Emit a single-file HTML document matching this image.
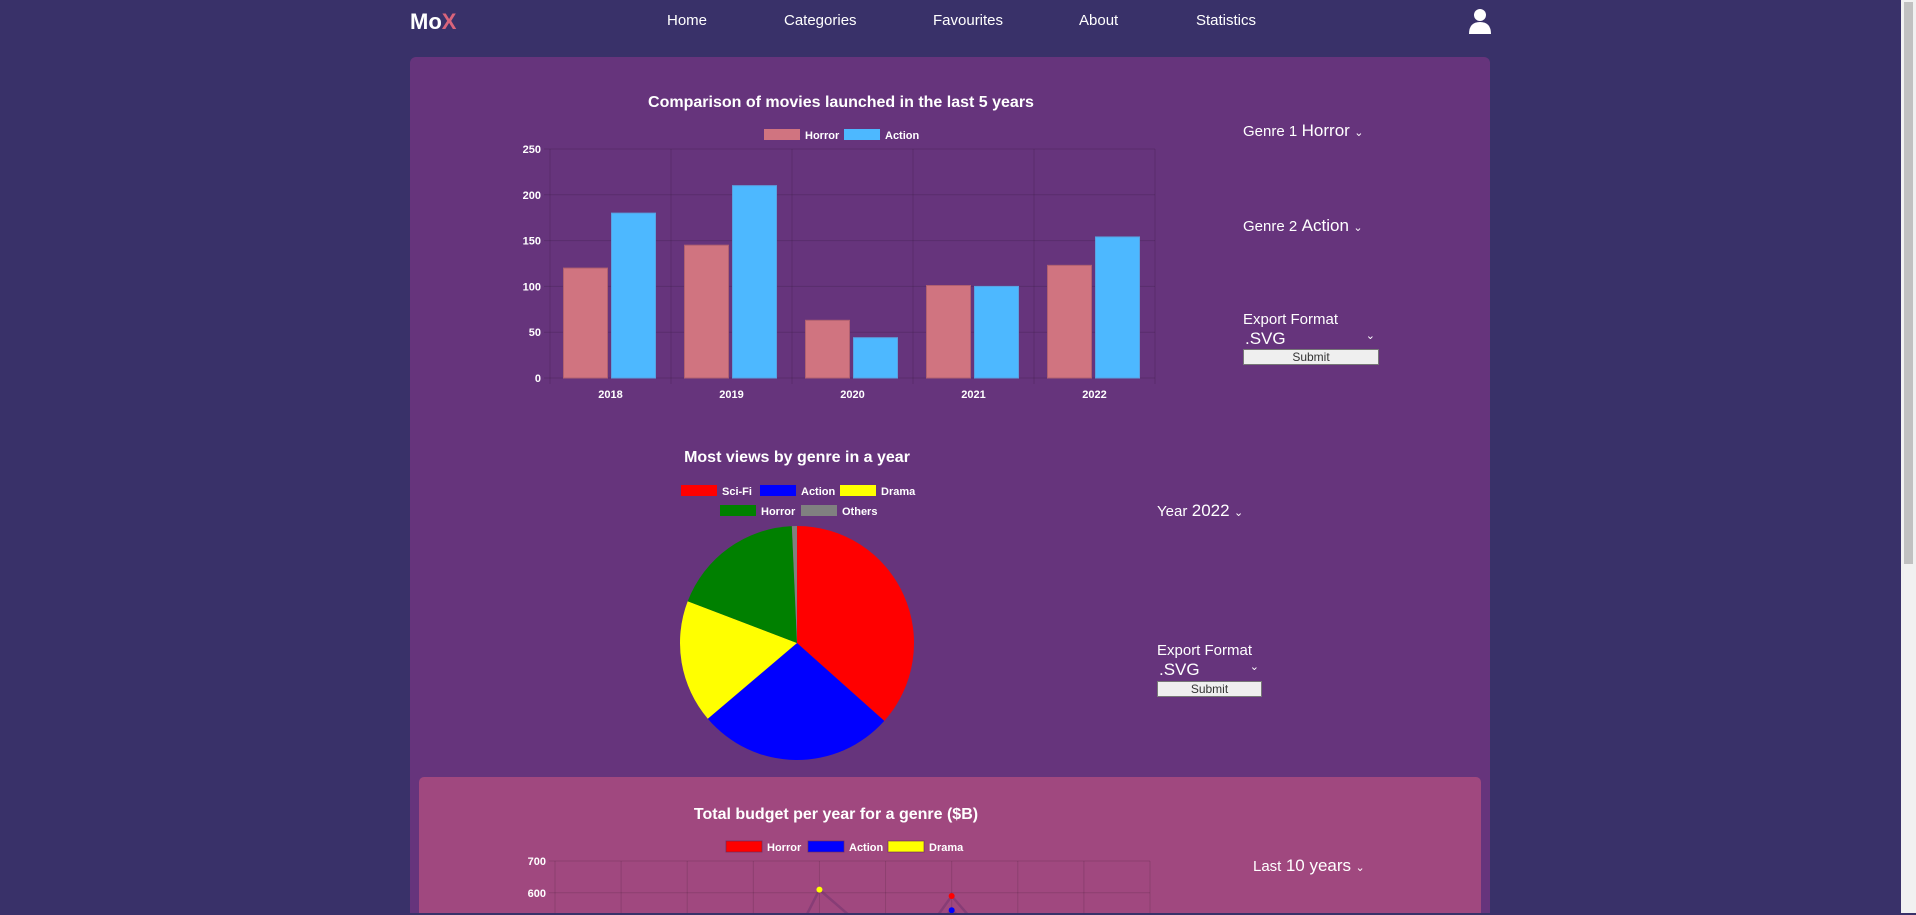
<!DOCTYPE html>
<html><head><meta charset="utf-8">
<style>
html,body{margin:0;padding:0;width:1916px;height:915px;overflow:hidden;background:#393169;font-family:"Liberation Sans",sans-serif;color:#fff}
#wrap{position:relative;width:1916px;height:915px;overflow:hidden}
.abs{position:absolute}
.nav{font-size:15px;top:12px}
.panel{position:absolute;left:410px;top:57px;width:1080px;height:856px;background:#66347c;border-radius:6px 6px 0 0}
.panel2{position:absolute;left:419px;top:777px;width:1062px;height:136px;background:#a0487f;border-radius:5px 5px 0 0}
.lbl{font-size:15px}
.big{font-size:17px}
.btn{background:#efefef;border:1px solid #777;color:#333;font-size:12px;text-align:center;line-height:14px}
svg text{font-family:"Liberation Sans",sans-serif;fill:#fff}
</style></head><body><div id="wrap">
<div class="abs" style="left:410px;top:9px;font-size:22px;font-weight:bold">Mo<span style="color:#d9647b">X</span></div>
<div class="abs nav" style="left:667px">Home</div>
<div class="abs nav" style="left:784px">Categories</div>
<div class="abs nav" style="left:933px">Favourites</div>
<div class="abs nav" style="left:1079px">About</div>
<div class="abs nav" style="left:1196px">Statistics</div>
<svg class="abs" style="left:1469px;top:8px" width="22" height="26"><circle cx="11" cy="7" r="6" fill="#fff"/><path d="M0 26 Q0 14 11 14 Q22 14 22 26Z" fill="#fff"/></svg>
<div class="abs" style="left:1901px;top:0;width:15px;height:913px;background:#f1f1f1"><div style="position:absolute;left:3px;top:2px;width:9px;height:562px;background:#c1c1c1"></div></div>

<div class="panel"></div>
<div class="panel2"></div>

<svg id="bar" class="abs" style="left:0;top:0" width="1916" height="913"></svg>

<div class="abs" style="left:1243px;top:121px"><span class="lbl">Genre 1</span> <span class="big">Horror</span> <span style="font-size:11px">&#8964;</span></div>
<div class="abs" style="left:1243px;top:216px"><span class="lbl">Genre 2</span> <span class="big">Action</span> <span style="font-size:11px">&#8964;</span></div>
<div class="abs lbl" style="left:1243px;top:311px">Export Format</div>
<div class="abs big" style="left:1245px;top:329px;width:130px">.SVG<span style="float:right;font-size:11px">&#8964;</span></div>
<div class="abs btn" style="left:1243px;top:349px;width:134px;height:14px">Submit</div>

<div class="abs" style="left:1157px;top:501px"><span class="lbl">Year</span> <span class="big">2022</span> <span style="font-size:11px">&#8964;</span></div>
<div class="abs lbl" style="left:1157px;top:642px">Export Format</div>
<div class="abs big" style="left:1159px;top:660px;width:100px">.SVG<span style="float:right;font-size:11px">&#8964;</span></div>
<div class="abs btn" style="left:1157px;top:681px;width:103px;height:14px">Submit</div>

<div class="abs" style="left:1253px;top:856px"><span class="lbl">Last</span> <span class="big">10 years</span> <span style="font-size:11px">&#8964;</span></div>
</div>
<script>
const barYears=["2018","2019","2020","2021","2022"];
const horrorVals=[120,145,63,101,123];
const actionVals=[180,210,44,100,154];
const barTicks=[0,50,100,150,200,250];
const pieLabels=["Sci-Fi","Action","Drama","Horror","Others"];
const pieVals=[36.6,27.2,17,18.5,0.7];
const lineYears=["2013","2014","2015","2016","2017","2018","2019","2020","2021","2022"];
const lineHorror=[300,320,340,360,380,300,590,350,400,380];
const lineAction=[250,270,290,310,330,350,545,380,360,340];
const lineDrama=[200,220,240,200,610,430,300,320,330,350];
const lineTicks=[600,700];

const NS="http://www.w3.org/2000/svg";
const svg=document.getElementById('bar');
function mk(t,a,txt){const e=document.createElementNS(NS,t);for(const k in a)e.setAttribute(k,a[k]);if(txt!==undefined)e.textContent=txt;svg.appendChild(e);return e;}

const bx0=550,bx1=1155,by0=378,by1=149;
const by=v=>by0-(v/250)*(by0-by1);
const bw=(bx1-bx0)/barYears.length;
let t=mk('text',{x:841,y:107,'text-anchor':'middle','font-size':16,'font-weight':'bold'},'Comparison of movies launched in the last 5 years');

barTicks.forEach(v=>{
  let g=mk('line',{x1:bx0-6,x2:bx1,y1:by(v),y2:by(v),stroke:'rgba(0,0,0,0.12)'});
  
  let l=mk('text',{x:541,y:by(v)+4,'text-anchor':'end','font-size':11,'font-weight':'bold'},v);
  
});
for(let i=0;i<=barYears.length;i++){let g=mk('line',{x1:bx0+i*bw,x2:bx0+i*bw,y1:by1,y2:by0+6,stroke:'rgba(0,0,0,0.12)'});
}
barYears.forEach((y,i)=>{
  const cx=bx0+bw*(i+0.5);
  let h=mk('rect',{x:cx-47,y:by(horrorVals[i]),width:44,height:by0-by(horrorVals[i]),fill:'#d07480',stroke:'#b06070'});
  
  let a=mk('rect',{x:cx+1,y:by(actionVals[i]),width:44,height:by0-by(actionVals[i]),fill:'#4db8ff',stroke:'#5aa0e0'});
  
  let l=mk('text',{x:cx,y:398,'text-anchor':'middle','font-size':11,'font-weight':'bold'},y);
  
});
[['Horror','#d07480',764],['Action','#4db8ff',844]].forEach(([n,c,x])=>{
  let r=mk('rect',{x:x,y:129,width:36,height:11,fill:c});
  let l=mk('text',{x:x+41,y:139,'font-size':11,'font-weight':'bold'},n);
});

const pieColors=['#ff0000','#0000ff','#ffff00','#008000','#808080'];
t=mk('text',{x:797,y:462,'text-anchor':'middle','font-size':16,'font-weight':'bold'},'Most views by genre in a year');

const legPos=[[681,490],[760,490],[840,490],[720,510],[801,510]];
pieLabels.forEach((n,i)=>{
  let r=mk('rect',{x:legPos[i][0],y:legPos[i][1]-5,width:36,height:11,fill:pieColors[i]});
  let l=mk('text',{x:legPos[i][0]+41,y:legPos[i][1]+5,'font-size':11,'font-weight':'bold'},n);
});
const pcx=797,pcy=643,pr=117;
const tot=pieVals.reduce((a,b)=>a+b,0);
let ang=-Math.PI/2;
pieVals.forEach((v,i)=>{
  const a2=ang+v/tot*Math.PI*2;
  const large=(a2-ang)>Math.PI?1:0;
  const d=`M${pcx},${pcy} L${pcx+pr*Math.cos(ang)},${pcy+pr*Math.sin(ang)} A${pr},${pr} 0 ${large} 1 ${pcx+pr*Math.cos(a2)},${pcy+pr*Math.sin(a2)} Z`;
  let p=mk('path',{d:d,fill:pieColors[i]});
  
  
  ang=a2;
});

t=mk('text',{x:836,y:819,'text-anchor':'middle','font-size':16,'font-weight':'bold'},'Total budget per year for a genre ($B)');

[['Horror','#ff0000',726],['Action','#0000ff',808],['Drama','#ffff00',888]].forEach(([n,c,x])=>{
  let r=mk('rect',{x:x,y:841,width:36,height:11,fill:c,stroke:'rgba(100,40,90,0.6)'});
  let l=mk('text',{x:x+41,y:851,'font-size':11,'font-weight':'bold'},n);
});
const lx0=555,lx1=1150;
const ly=v=>861+(700-v)*0.318;
const lx=i=>lx0+i*(lx1-lx0)/(lineYears.length-1);
lineTicks.forEach(v=>{
  let g=mk('line',{x1:lx0-6,x2:lx1,y1:ly(v),y2:ly(v),stroke:'rgba(0,0,0,0.12)'});
  let l=mk('text',{x:546,y:ly(v)+4,'text-anchor':'end','font-size':11,'font-weight':'bold'},v);
});
lineYears.forEach((y,i)=>{let g=mk('line',{x1:lx(i),x2:lx(i),y1:861,y2:913,stroke:'rgba(0,0,0,0.12)'});});
[[lineHorror,'#ff0000','horror'],[lineAction,'#0000ff','action'],[lineDrama,'#ffff00','drama']].forEach(([vals,c,n])=>{
  let p=mk('polyline',{points:vals.map((v,i)=>lx(i)+','+ly(v)).join(' '),fill:'none',stroke:'rgba(110,50,110,0.5)','stroke-width':2.5});
  
  vals.forEach((v,i)=>{if(ly(v)>914)return;let d=mk('circle',{cx:lx(i),cy:ly(v),r:3,fill:c});});
});
</script>
</body></html>
